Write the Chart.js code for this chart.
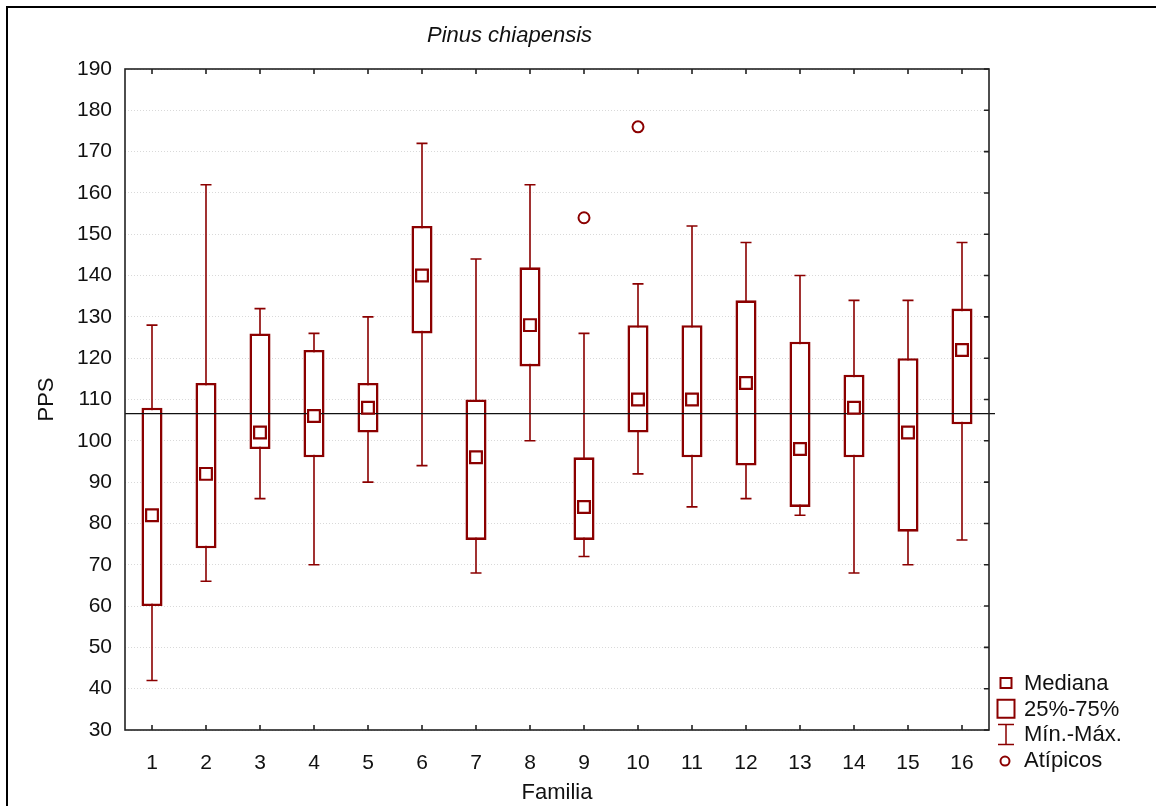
<!DOCTYPE html>
<html>
<head>
<meta charset="utf-8">
<script src="https://cdn.jsdelivr.net/npm/chart.js@4/dist/chart.umd.min.js"></script>
<style>
  body { margin: 0; background: #fff; }
  #marco { position: relative; width: 1156px; height: 806px; }
  #borde { position: absolute; left: 6px; top: 6px; right: 0; bottom: 0;
           border-left: 2px solid #000; border-top: 2px solid #000; pointer-events: none; }
</style>
</head>
<body>
<div id="marco">
  <canvas id="myChart" width="1156" height="806"></canvas>
  <div id="borde"></div>
</div>
<script>
// Datos (PPS por familia)
var familias = ['1', '2', '3', '4', '5', '6', '7', '8', '9', '10', '11', '12', '13', '14', '15', '16'];
var minimos  = [42, 66, 86, 70, 90, 94, 68, 100, 72, 92, 84, 86, 82, 68, 70, 76];
var q25      = [60, 74, 98, 96, 102, 126, 76, 118, 76, 102, 96, 94, 84, 96, 78, 104];
var medianas = [82, 92, 102, 106, 108, 140, 96, 128, 84, 110, 110, 114, 98, 108, 102, 122];
var q75      = [108, 114, 126, 122, 114, 152, 110, 142, 96, 128, 128, 134, 124, 116, 120, 132];
var maximos  = [128, 162, 132, 126, 130, 172, 144, 162, 126, 138, 152, 148, 140, 134, 134, 148];
var atipicos = [null, null, null, null, null, null, null, null, 154, 176, null, null, null, null, null, null];
var mediaGeneral = 106.6;
var yMin = 30, yMax = 190, yPaso = 10;
var leyenda = ['Mediana', '25%-75%', 'Mín.-Máx.', 'Atípicos'];

var ROJO = '#8b0000';
var FUENTE = "'Liberation Sans', Arial, sans-serif";

// Cajas flotantes Q1-Q3
var cajas = familias.map(function (f, i) { return [q25[i], q75[i]]; });

var pluginCajas = {
  id: 'cajas',
  // bigotes min-max debajo de las cajas
  beforeDatasetsDraw: function (chart) {
    var ctx = chart.ctx, x = chart.scales.x, y = chart.scales.y;
    ctx.save();
    ctx.strokeStyle = ROJO;
    ctx.lineWidth = 1.6;
    familias.forEach(function (f, i) {
      var px = x.getPixelForTick(i);
      var pMin = y.getPixelForValue(minimos[i]);
      var pMax = y.getPixelForValue(maximos[i]);
      ctx.beginPath();
      ctx.moveTo(px, pMin); ctx.lineTo(px, pMax);
      ctx.moveTo(px - 5.5, pMin); ctx.lineTo(px + 5.5, pMin);
      ctx.moveTo(px - 5.5, pMax); ctx.lineTo(px + 5.5, pMax);
      ctx.stroke();
    });
    ctx.restore();
  },
  // linea de la media general encima de las cajas
  afterDatasetDraw: function (chart, args) {
    if (args.index !== 0) return;
    var ctx = chart.ctx, a = chart.chartArea, y = chart.scales.y;
    var py = y.getPixelForValue(mediaGeneral);
    ctx.save();
    ctx.strokeStyle = '#111';
    ctx.lineWidth = 1.3;
    ctx.beginPath();
    ctx.moveTo(a.left, py);
    ctx.lineTo(a.right + 6, py);
    ctx.stroke();
    ctx.restore();
  },
  afterDraw: function (chart) {
    var ctx = chart.ctx, a = chart.chartArea, x = chart.scales.x, y = chart.scales.y;
    ctx.save();
    // marco del area de trazado
    ctx.strokeStyle = '#222';
    ctx.lineWidth = 1.6;
    ctx.strokeRect(a.left, a.top, a.right - a.left, a.bottom - a.top);
    // marcas interiores
    ctx.beginPath();
    y.ticks.forEach(function (t) {
      var py = y.getPixelForValue(t.value);
      ctx.moveTo(a.right - 5, py); ctx.lineTo(a.right, py);
    });
    familias.forEach(function (f, i) {
      var px = x.getPixelForTick(i);
      ctx.moveTo(px, a.top); ctx.lineTo(px, a.top + 5);
      ctx.moveTo(px, a.bottom); ctx.lineTo(px, a.bottom - 5);
    });
    ctx.stroke();

    // leyenda
    var mx = a.right + 17, tx = a.right + 35;
    ctx.font = '22px ' + FUENTE;
    ctx.fillStyle = '#111';
    ctx.textBaseline = 'middle';
    ctx.textAlign = 'left';
    leyenda.forEach(function (txt, i) {
      var ly = a.bottom - 47 + i * 25.7;
      ctx.fillText(txt, tx, ly + 1);
      ctx.strokeStyle = ROJO;
      ctx.lineWidth = 2;
      ctx.beginPath();
      if (i === 0) {
        ctx.rect(mx - 5.5, ly - 5, 11, 10);
      } else if (i === 1) {
        ctx.rect(mx - 8.5, ly - 9, 17, 18);
      } else if (i === 2) {
        ctx.lineWidth = 1.5;
        ctx.moveTo(mx - 8, ly - 10); ctx.lineTo(mx + 8, ly - 10);
        ctx.moveTo(mx, ly - 10); ctx.lineTo(mx, ly + 10);
        ctx.moveTo(mx - 8, ly + 10); ctx.lineTo(mx + 8, ly + 10);
      } else {
        ctx.arc(mx - 1, ly + 1, 4.5, 0, Math.PI * 2);
      }
      ctx.stroke();
    });
    ctx.restore();
  }
};

var ctx = document.getElementById('myChart').getContext('2d');
var myChart = new Chart(ctx, {
  type: 'bar',
  data: {
    labels: familias,
    datasets: [{
      label: '25%-75%',
      data: cajas,
      backgroundColor: '#fff',
      borderColor: ROJO,
      borderWidth: 2.6,
      borderSkipped: false,
      categoryPercentage: 1,
      barPercentage: 0.39,
      order: 3
    }, {
      type: 'line',
      label: 'Mediana',
      data: medianas,
      showLine: false,
      pointStyle: 'rect',
      pointRadius: 8.3,
      pointBorderWidth: 2.2,
      pointBorderColor: ROJO,
      pointBackgroundColor: '#fff',
      order: 1
    }, {
      type: 'line',
      label: 'Atípicos',
      data: atipicos,
      showLine: false,
      pointStyle: 'circle',
      pointRadius: 5.5,
      pointBorderWidth: 2,
      pointBorderColor: ROJO,
      pointBackgroundColor: '#fff',
      order: 2
    }]
  },
  options: {
    responsive: false,
    animation: false,
    devicePixelRatio: 1,
    layout: { padding: { left: 30, right: 167, top: 0, bottom: 0 } },
    plugins: {
      legend: { display: false },
      tooltip: { enabled: false },
      title: {
        display: true,
        text: 'Pinus chiapensis',
        color: '#111',
        font: { family: FUENTE, size: 22, style: 'italic', weight: 'normal' },
        padding: { top: 22.5, bottom: 20.1 }
      }
    },
    scales: {
      x: {
        grid: { display: false },
        border: { display: false },
        ticks: { color: '#111', padding: 12.5, font: { family: FUENTE, size: 21 } },
        title: { display: true, text: 'Familia', color: '#111',
                 font: { family: FUENTE, size: 22 }, padding: { top: 2, bottom: 0 } },
        afterFit: function (s) { s.height = 76; }
      },
      y: {
        min: yMin,
        max: yMax,
        grid: { color: '#d9d9d9', lineWidth: 1, drawTicks: false },
        border: { display: false, dash: [1, 2] },
        ticks: { stepSize: yPaso, color: '#111', padding: 13, font: { family: FUENTE, size: 21 } },
        title: { display: true, text: 'PPS', color: '#111',
                 font: { family: FUENTE, size: 22 }, padding: { top: 3.5, bottom: 0 } },
        afterFit: function (s) { s.width = 95; }
      }
    }
  },
  plugins: [pluginCajas]
});
</script>
</body>
</html>
